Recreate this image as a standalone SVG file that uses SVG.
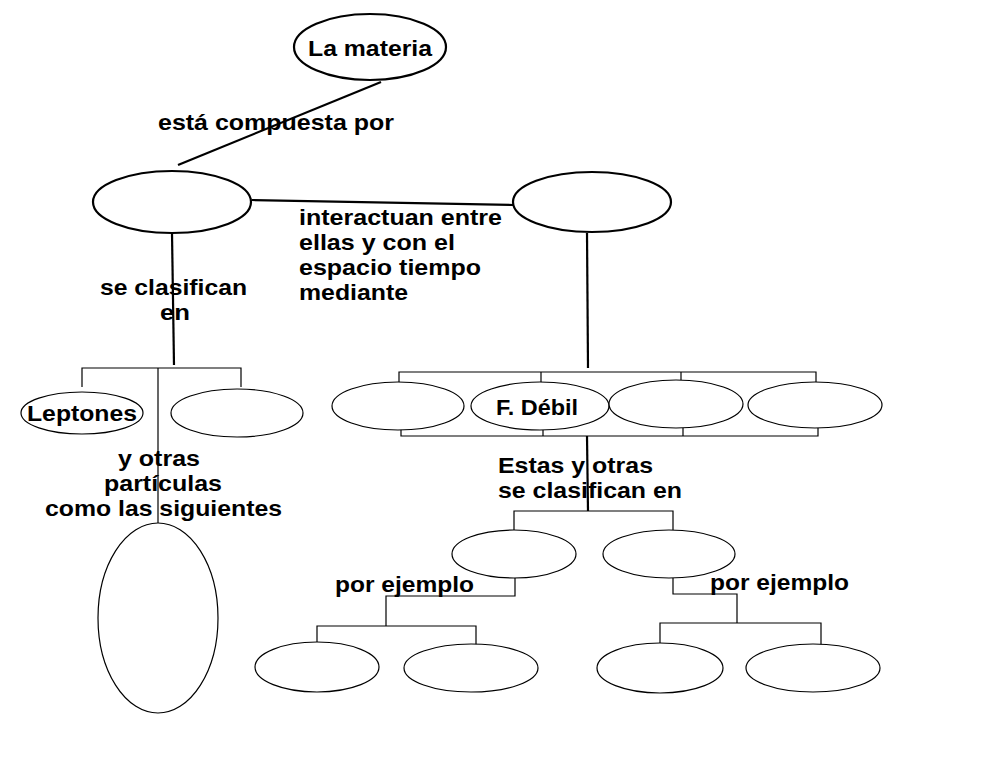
<svg xmlns="http://www.w3.org/2000/svg" width="1000" height="768" viewBox="0 0 1000 768">
<style>
.n{fill:#fff;stroke:#000;stroke-width:1.2}
.nb{fill:#fff;stroke:#000;stroke-width:2.2}
.t{font-family:"Liberation Sans",Arial,sans-serif;font-size:22px;font-weight:bold;fill:#000}
.c{fill:none;stroke:#000;stroke-width:1.2}
.cb{fill:none;stroke:#000;stroke-width:2.2}
</style>
<rect width="1000" height="768" fill="#fff"/>
<g id="connectors">
<line class="cb" x1="381" y1="82" x2="178" y2="165"/>
<line class="cb" x1="252" y1="200" x2="514" y2="205"/>
<line class="cb" x1="172" y1="233" x2="174" y2="365"/>
<line class="cb" x1="587" y1="233" x2="588" y2="368"/>
<polyline class="c" points="82,387 82,368 241,368 241,387"/>
<line class="c" x1="158" y1="368" x2="158" y2="523"/>
<polyline class="c" points="399,383 399,372 816,372 816,382"/>
<line class="c" x1="541" y1="372" x2="541" y2="383"/>
<line class="c" x1="681" y1="372" x2="681" y2="380"/>
<polyline class="c" points="401,429 401,436 818,436 818,428"/>
<line class="c" x1="543" y1="430" x2="543" y2="436"/>
<line class="c" x1="683" y1="428" x2="683" y2="436"/>
<line class="cb" x1="587" y1="436" x2="588" y2="511"/>
<polyline class="c" points="514,530 514,511 673,511 673,530"/>
<polyline class="c" points="515,578 515,596 386,596 386,626"/>
<polyline class="c" points="317,643 317,626 476,626 476,645"/>
<polyline class="c" points="673,578 673,594 737,594 737,623"/>
<polyline class="c" points="660,643 660,623 821,623 821,645"/>
</g>
<g id="n-materia"><ellipse class="nb" cx="370" cy="47" rx="76" ry="33"/><text class="t" x="308" y="56" textLength="124" lengthAdjust="spacingAndGlyphs">La materia</text></g>
<g id="n-left"><ellipse class="nb" cx="172" cy="202" rx="79" ry="31"/></g>
<g id="n-right"><ellipse class="nb" cx="592" cy="202" rx="79" ry="30"/></g>
<g id="n-leptones"><ellipse class="n" cx="82" cy="413" rx="61" ry="21"/><text class="t" x="27" y="421" textLength="110" lengthAdjust="spacingAndGlyphs">Leptones</text></g>
<g id="n-lep2"><ellipse class="n" cx="237" cy="413" rx="66" ry="24"/></g>
<g id="n-big"><ellipse class="n" cx="158" cy="618" rx="60" ry="95"/></g>
<g id="n-f1"><ellipse class="n" cx="398" cy="406" rx="66" ry="24"/></g>
<g id="n-debil"><ellipse class="n" cx="540" cy="406" rx="69" ry="24"/><text class="t" x="496" y="415" textLength="82" lengthAdjust="spacingAndGlyphs">F. Débil</text></g>
<g id="n-f3"><ellipse class="n" cx="676" cy="404" rx="67" ry="24"/></g>
<g id="n-f4"><ellipse class="n" cx="815" cy="405" rx="67" ry="23"/></g>
<g id="n-c1"><ellipse class="n" cx="514" cy="554" rx="62" ry="24"/></g>
<g id="n-c2"><ellipse class="n" cx="669" cy="554" rx="66" ry="24"/></g>
<g id="n-e1"><ellipse class="n" cx="317" cy="667" rx="62" ry="25"/></g>
<g id="n-e2"><ellipse class="n" cx="471" cy="668" rx="67" ry="24"/></g>
<g id="n-e3"><ellipse class="n" cx="660" cy="668" rx="63" ry="25"/></g>
<g id="n-e4"><ellipse class="n" cx="813" cy="668" rx="67" ry="24"/></g>
<g id="labels">
<text class="t" x="158" y="130" textLength="236" lengthAdjust="spacingAndGlyphs">está compuesta por</text>
<text class="t" x="299" y="225" textLength="203" lengthAdjust="spacingAndGlyphs">interactuan entre</text>
<text class="t" x="299" y="250" textLength="156" lengthAdjust="spacingAndGlyphs">ellas y con el</text>
<text class="t" x="299" y="275" textLength="182" lengthAdjust="spacingAndGlyphs">espacio tiempo</text>
<text class="t" x="299" y="300" textLength="109" lengthAdjust="spacingAndGlyphs">mediante</text>
<text class="t" x="100" y="295" textLength="147" lengthAdjust="spacingAndGlyphs">se clasifican</text>
<text class="t" x="160" y="320" textLength="30" lengthAdjust="spacingAndGlyphs">en</text>
<text class="t" x="118" y="466" textLength="82" lengthAdjust="spacingAndGlyphs">y otras</text>
<text class="t" x="104" y="491" textLength="118" lengthAdjust="spacingAndGlyphs">partículas</text>
<text class="t" x="45" y="516" textLength="237" lengthAdjust="spacingAndGlyphs">como las siguientes</text>
<text class="t" x="498" y="473" textLength="155" lengthAdjust="spacingAndGlyphs">Estas y otras</text>
<text class="t" x="498" y="498" textLength="184" lengthAdjust="spacingAndGlyphs">se clasifican en</text>
<text class="t" x="335" y="592" textLength="139" lengthAdjust="spacingAndGlyphs">por ejemplo</text>
<text class="t" x="710" y="590" textLength="139" lengthAdjust="spacingAndGlyphs">por ejemplo</text>
</g>
</svg>
